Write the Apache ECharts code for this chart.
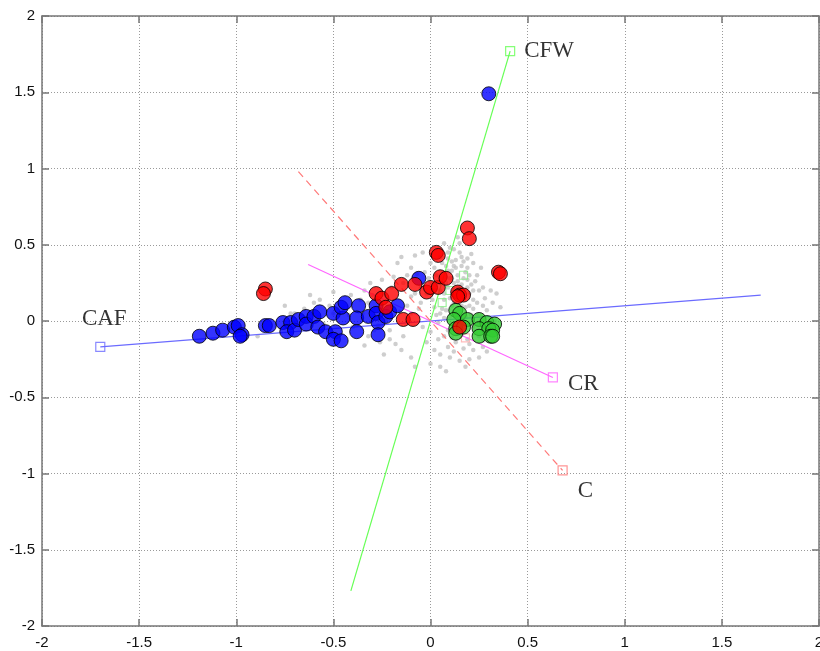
<!DOCTYPE html>
<html>
<head>
<meta charset="utf-8">
<script src="https://cdn.jsdelivr.net/npm/echarts@6/dist/echarts.min.js"></script>
<style>html,body{margin:0;padding:0;background:#fff;overflow:hidden;}#c{width:820px;height:651px;}</style>
</head>
<body>
<div id="c"></div>
<script>
// Axis ticks
const tickValues = [-2, -1.5, -1, -0.5, 0, 0.5, 1, 1.5, 2];

// Variable vectors (outer end; line drawn through origin to the opposite end)
const vecNames = ['CAF', 'CFW', 'CR', 'C'];
const vecX = [-1.70, 0.41, 0.63, 0.68];
const vecY = [-0.17, 1.77, -0.37, -0.98];

// Small projected variable markers near origin
const greenSquares = [[0.17, 0.30], [0.10, 0.20], [0.06, 0.12]];
const redSquares = [[0.18, -0.11]];

// Gray background observations
const grayPts = [
  [-0.08,0.43],[-0.04,0.45],[0.09,0.45],[0.15,0.45],[0.11,0.39],[0.13,0.35],[0.09,0.33],[0.10,0.28],
  [0.14,0.26],[0.18,0.20],[0.21,0.24],[0.15,0.14],[0.11,0.10],[0.08,0.07],[0.18,0.09],[0.21,0.04],
  [0.14,-0.01],[0.16,-0.09],[0.09,-0.06],[0.27,0.22],[0.31,0.20],[0.22,0.14],[0.26,0.03],[0.19,-0.12],
  [0.27,-0.17],[0.09,-0.17],[0.04,-0.12],[0.02,-0.19],[-0.02,-0.14],[-0.14,-0.10],[-0.21,-0.12],[-0.26,-0.14],
  [-0.15,-0.19],[-0.34,-0.16],[-0.29,-0.06],[-0.15,0.42],[-0.17,0.38],[-0.10,0.35],[-0.07,0.31],[-0.14,0.25],
  [-0.19,0.29],[-0.31,0.25],[-0.34,0.20],[-0.41,0.17],[-0.50,0.19],[-0.57,0.14],[-0.60,0.12],[-0.58,0.03],
  [-0.40,-0.04],[-0.32,0.12],[-0.10,0.16],[-0.05,0.12],[-0.02,0.18],[0.02,0.09],[0.05,0.05],[0.04,-0.01],
  [0.22,-0.04],[0.07,0.18],[0.12,0.25],[0.19,0.27],[0.19,0.35],[0.22,0.38],[0.15,0.51],[0.07,0.51],
  [0.00,0.38],[0.29,0.07],[0.36,0.09],[0.22,-0.19],[0.15,-0.26],[0.10,-0.24],[0.05,-0.30],[-0.10,-0.24],
  [-0.24,-0.22],[-0.21,-0.06],[-0.23,0.01],[-0.50,0.05],[-0.62,0.17],[-0.27,-0.03],[0.12,0.20],[0.14,0.30],
  [0.17,0.15],[0.10,0.15],[0.20,0.10],[0.05,0.20],[0.13,0.05],[0.18,0.32],[0.08,0.25],[0.03,0.30],
  [0.16,0.42],[0.12,0.47],[0.24,0.30],[0.06,0.38],[0.00,0.25],[-0.05,0.22],[0.25,-0.10],[0.30,-0.05],
  [0.12,-0.20],[0.20,-0.25],[-0.45,0.08],[-0.70,0.05],[-0.75,0.10],[-0.35,0.05],[-0.10,0.05],[0.28,0.15],
  [0.33,0.00],[-0.72,0.05],[-0.89,-0.10],[0.11,0.33],[0.16,0.36],[0.20,0.18],[0.07,0.02],[0.01,0.14],
  [0.02,0.35],[0.05,0.42],[0.10,0.48],[0.13,0.40],[0.17,0.39],[0.20,0.30],[0.23,0.26],[0.25,0.20],
  [0.22,0.08],[0.24,0.12],[0.27,0.10],[0.18,0.03],[0.20,-0.02],[0.23,-0.08],[0.27,-0.13],[0.29,-0.20],
  [0.17,-0.18],[0.13,-0.14],[0.07,-0.10],[0.05,-0.22],[0.00,-0.07],[-0.04,-0.04],[-0.06,0.08],[-0.12,0.10],
  [-0.16,0.06],[-0.08,0.18],[-0.12,0.30],[-0.03,0.32],[0.04,0.25],[0.09,0.22],[0.16,0.24],[0.12,0.12],
  [0.07,0.14],[0.15,0.08],[0.10,0.03],[0.03,0.04],[-0.20,0.22],[-0.25,0.27],[-0.30,0.17],[-0.36,0.14],
  [-0.42,0.04],[-0.52,0.10],[-0.65,0.08],[-0.55,-0.02],[-0.32,-0.10],[-0.18,-0.15],[-0.08,-0.30],[0.00,-0.28],
  [0.08,-0.33],[0.18,-0.30],[0.25,-0.24],[0.32,0.12],[0.34,0.18],[0.26,0.35],[0.21,0.44],[0.14,0.55],
  [0.08,0.36],[0.11,0.28],[0.19,0.22],[0.16,0.10],[0.06,0.08],[0.14,0.22],[0.17,0.28],[0.12,0.36],
  [0.09,0.41],[0.19,0.41],[0.22,0.20],[0.24,0.04],[0.11,-0.11],[0.20,-0.15],[0.02,0.20],[-0.01,0.28]
];

// Group observations
const greenPts = [
  [0.13,0.07],[0.15,0.05],[0.12,0.01],[0.19,0.01],[0.25,0.01],[0.29,-0.01],[0.33,-0.02],[0.13,-0.05],
  [0.17,-0.04],[0.25,-0.05],[0.30,-0.05],[0.32,-0.06],[0.13,-0.08],[0.25,-0.10],[0.31,-0.10],[0.32,-0.10]
];
const bluePts = [
  [-1.19,-0.10],[-1.12,-0.08],[-1.07,-0.06],[-1.01,-0.04],[-0.99,-0.03],[-0.97,-0.09],[-0.98,-0.10],[-0.85,-0.03],
  [-0.83,-0.03],[-0.76,-0.01],[-0.72,-0.01],[-0.74,-0.07],[-0.70,-0.06],[-0.68,0.01],[-0.64,0.03],[-0.64,-0.02],
  [-0.60,0.03],[-0.58,-0.04],[-0.57,0.06],[-0.54,-0.07],[-0.50,0.05],[-0.49,-0.07],[-0.50,-0.12],[-0.46,-0.13],
  [-0.45,0.02],[-0.46,0.09],[-0.44,0.12],[-0.37,0.10],[-0.38,0.02],[-0.38,-0.07],[-0.32,0.03],[-0.28,0.10],
  [-0.28,0.05],[-0.27,-0.01],[-0.27,-0.09],[-0.23,0.03],[-0.21,0.06],[-0.17,0.10],[-0.06,0.28],[0.30,1.49]
];
const redPts = [
  [-0.85,0.21],[-0.86,0.18],[-0.28,0.18],[-0.25,0.15],[-0.20,0.18],[-0.23,0.09],[-0.15,0.24],[-0.08,0.24],
  [-0.02,0.19],[0.00,0.22],[0.04,0.22],[-0.14,0.01],[-0.09,0.01],[0.19,0.61],[0.20,0.54],[0.03,0.45],
  [0.04,0.43],[0.35,0.32],[0.36,0.31],[0.05,0.29],[0.08,0.28],[0.14,0.19],[0.15,0.17],[0.17,0.17],
  [0.14,0.16],[0.15,-0.04]
];

const vecColors = ['#6b6bff', '#66ff55', '#ff66ff', '#ff7a7a'];
const vecTypes = ['solid', 'solid', 'solid', [7, 5]];
const labelPos = [
  { position: 'top', offset: [4, -6] },
  { position: 'right', distance: 9, offset: [0, 0] },
  { position: 'right', distance: 10, offset: [0, 7] },
  { position: 'right', distance: 10, offset: [0, 21] }
];

const series = [];
series.push({
  type: 'scatter', data: grayPts, symbol: 'circle', symbolSize: 4.5,
  itemStyle: { color: '#c2c2c2' }, z: 1, silent: true
});
vecNames.forEach((n, i) => {
  series.push({
    type: 'line', data: [[-vecX[i], -vecY[i]], [vecX[i], vecY[i]]],
    showSymbol: false, symbol: 'none', z: 2,
    lineStyle: { color: vecColors[i], width: 1.2, type: vecTypes[i] }
  });
  series.push({
    type: 'scatter', data: [[vecX[i], vecY[i]]], symbol: 'rect', symbolSize: 9, z: 3,
    itemStyle: { color: 'rgba(255,255,255,0)', borderColor: vecColors[i], borderWidth: 1.2 },
    label: Object.assign({
      show: true, formatter: n, color: '#000',
      fontFamily: 'Liberation Serif', fontSize: 23
    }, labelPos[i])
  });
});
series.push({
  type: 'scatter', data: greenSquares, symbol: 'rect', symbolSize: 8, z: 3,
  itemStyle: { color: 'rgba(255,255,255,0)', borderColor: '#88ee88', borderWidth: 1.2 }
});
series.push({
  type: 'scatter', data: redSquares, symbol: 'rect', symbolSize: 8, z: 3,
  itemStyle: { color: 'rgba(255,255,255,0)', borderColor: '#ffaaaa', borderWidth: 1.2 }
});
const dotStyle = c => ({ color: c, borderColor: '#000', borderWidth: 1 });
series.push({ type: 'scatter', data: greenPts, symbolSize: 14, z: 4, itemStyle: dotStyle('#33cc33') });
series.push({ type: 'scatter', data: bluePts, symbolSize: 14, z: 5, itemStyle: dotStyle('#0000ff') });
series.push({ type: 'scatter', data: redPts, symbolSize: 14, z: 6, itemStyle: dotStyle('#ff0000') });

const axLabel = { fontFamily: 'Liberation Sans', fontSize: 15, color: '#111' };
const axLine = { show: true, onZero: false, lineStyle: { color: '#777', width: 1.5 } };
const tick = { show: true, inside: true, length: 7, lineStyle: { color: '#777', width: 1.5 } };
const split = { show: true, lineStyle: { color: '#9a9a9a', width: 1, type: [1, 2] } };

const chart = echarts.init(document.getElementById('c'), null, { renderer: 'canvas', width: 820, height: 651 });
chart.setOption({
  animation: false,
  backgroundColor: '#fff',
  grid: { left: 42, right: 1, top: 16, bottom: 25, containLabel: false, outerBoundsMode: 'none' },
  xAxis: [
    { type: 'value', min: tickValues[0], max: tickValues[tickValues.length - 1], interval: 0.5,
      axisLine: axLine, axisTick: tick, splitLine: split,
      axisLabel: Object.assign({ margin: 9, showMaxLabel: true }, axLabel) },
    { type: 'value', position: 'top', min: -2, max: 2, interval: 0.5,
      axisLine: axLine, axisTick: tick, splitLine: { show: false }, axisLabel: { show: false } }
  ],
  yAxis: [
    { type: 'value', min: tickValues[0], max: tickValues[tickValues.length - 1], interval: 0.5,
      axisLine: axLine, axisTick: tick, splitLine: split,
      axisLabel: Object.assign({ margin: 7 }, axLabel) },
    { type: 'value', position: 'right', min: -2, max: 2, interval: 0.5,
      axisLine: axLine, axisTick: tick, splitLine: { show: false }, axisLabel: { show: false } }
  ],
  series: series.map(s => Object.assign({ xAxisIndex: 0, yAxisIndex: 0 }, s))
});
</script>
</body>
</html>
